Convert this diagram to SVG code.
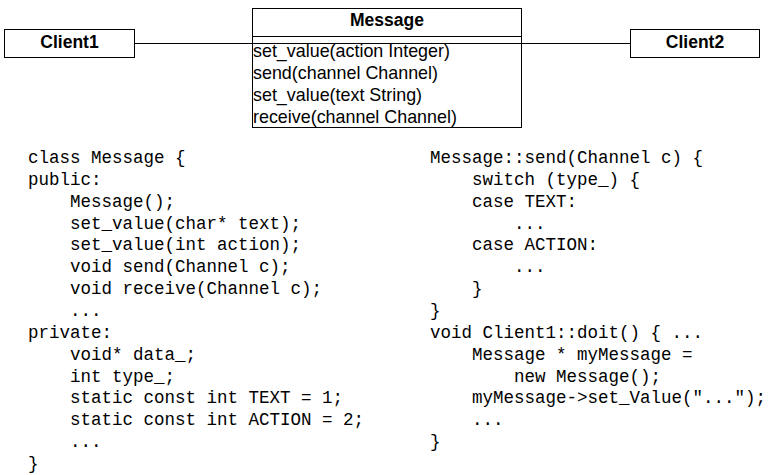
<svg xmlns="http://www.w3.org/2000/svg" width="773" height="475" viewBox="0 0 773 475">
<style>
.box{fill:#fff;stroke:#000;stroke-width:1}
.ln{stroke:#000;stroke-width:1;fill:none}
.title{font-family:"Liberation Sans",Arial,sans-serif;font-weight:bold;font-size:17.5px;fill:#000;text-anchor:middle}
.meth{font-family:"Liberation Sans",Arial,sans-serif;font-size:17.9px;fill:#000}
.code{font-family:"Liberation Mono","Courier New",monospace;font-size:17.5px;fill:#000;white-space:pre}
</style>
<rect width="773" height="475" fill="#fff"/>
<g id="connectors">
<line class="ln" x1="134.5" y1="43.5" x2="252.5" y2="43.5"/>
<line class="ln" x1="521.5" y1="43.5" x2="630.5" y2="43.5"/>
</g>
<g id="client1">
<rect class="box" x="4.5" y="29.5" width="130" height="28"/>
<text class="title" x="69.5" y="48">Client1</text>
</g>
<g id="message">
<rect class="box" x="252.5" y="8.5" width="269" height="119"/>
<line class="ln" x1="252.5" y1="36.5" x2="521.5" y2="36.5"/>
<line class="ln" x1="252.5" y1="43.5" x2="521.5" y2="43.5"/>
<text class="title" x="387" y="26">Message</text>
<text class="meth" x="253" y="57">set_value(action Integer)</text>
<text class="meth" x="253" y="79">send(channel Channel)</text>
<text class="meth" x="253" y="101">set_value(text String)</text>
<text class="meth" x="253" y="122.5">receive(channel Channel)</text>
</g>
<g id="client2">
<rect class="box" x="630.5" y="29.5" width="129" height="28"/>
<text class="title" x="695" y="48">Client2</text>
</g>
<g id="code-left">
<text class="code" x="28" y="163">class Message {</text>
<text class="code" x="28" y="184.85">public:</text>
<text class="code" x="28" y="206.7">    Message();</text>
<text class="code" x="28" y="228.55">    set_value(char* text);</text>
<text class="code" x="28" y="250.4">    set_value(int action);</text>
<text class="code" x="28" y="272.25">    void send(Channel c);</text>
<text class="code" x="28" y="294.1">    void receive(Channel c);</text>
<text class="code" x="28" y="315.95">    ...</text>
<text class="code" x="28" y="337.8">private:</text>
<text class="code" x="28" y="359.65">    void* data_;</text>
<text class="code" x="28" y="381.5">    int type_;</text>
<text class="code" x="28" y="403.35">    static const int TEXT = 1;</text>
<text class="code" x="28" y="425.2">    static const int ACTION = 2;</text>
<text class="code" x="28" y="447.05">    ...</text>
<text class="code" x="28" y="468.9">}</text>
</g>
<g id="code-right">
<text class="code" x="430" y="163">Message::send(Channel c) {</text>
<text class="code" x="430" y="184.85">    switch (type_) {</text>
<text class="code" x="430" y="206.7">    case TEXT:</text>
<text class="code" x="430" y="228.55">        ...</text>
<text class="code" x="430" y="250.4">    case ACTION:</text>
<text class="code" x="430" y="272.25">        ...</text>
<text class="code" x="430" y="294.1">    }</text>
<text class="code" x="430" y="315.95">}</text>
<text class="code" x="430" y="337.8">void Client1::doit() { ...</text>
<text class="code" x="430" y="359.65">    Message * myMessage =</text>
<text class="code" x="430" y="381.5">        new Message();</text>
<text class="code" x="430" y="403.35">    myMessage-&gt;set_Value("...");</text>
<text class="code" x="430" y="425.2">    ...</text>
<text class="code" x="430" y="447.05">}</text>
</g>
</svg>
